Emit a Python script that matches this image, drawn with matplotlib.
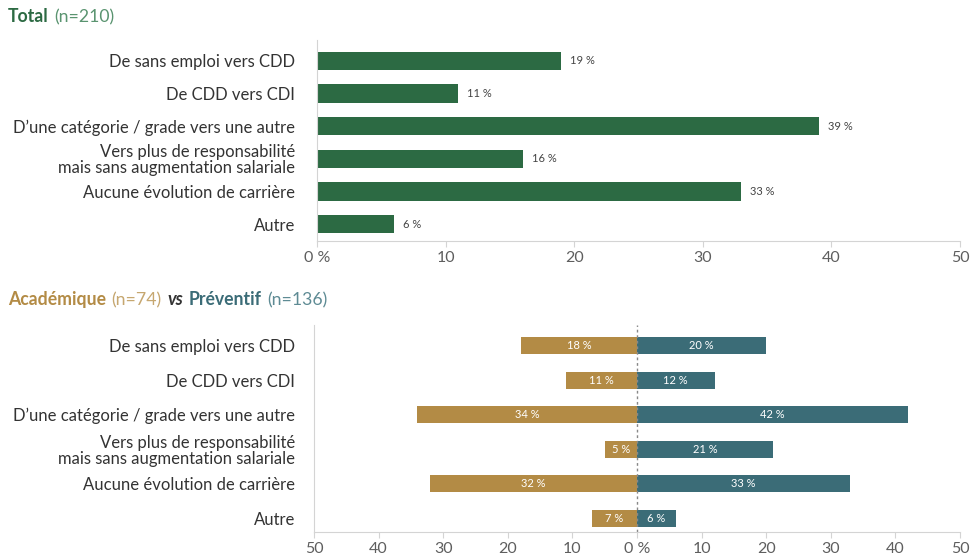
import matplotlib
matplotlib.use("Agg")
import matplotlib.pyplot as plt
from matplotlib.offsetbox import TextArea, HPacker, AnchoredOffsetbox

plt.rcParams['font.family'] = ['Lato', 'DejaVu Sans']

categories = [
    "De sans emploi vers CDD",
    "De CDD vers CDI",
    "D\u2019une catégorie / grade vers une autre",
    "Vers plus de responsabilité\nmais sans augmentation salariale",
    "Aucune évolution de carrière",
    "Autre",
]
total = [19, 11, 39, 16, 33, 6]
academique = [18, 11, 34, 5, 32, 7]
preventif = [20, 12, 42, 21, 33, 6]

GREEN = "#2c6a43"
GOLD = "#b38b45"
TEAL = "#3b6c77"
AXIS = "#d4d4d4"
TICK = "#5e5e5e"
LABEL = "#333333"

fig = plt.figure(figsize=(9.74, 5.57), dpi=100)


def style_axis(ax, pad):
    for s in ["top", "right"]:
        ax.spines[s].set_visible(False)
    ax.spines["left"].set_color(AXIS)
    ax.spines["bottom"].set_color(AXIS)
    ax.tick_params(axis="x", colors=AXIS, labelcolor=TICK, labelsize=11.5, length=4)
    ax.tick_params(axis="y", length=0, labelcolor=LABEL, labelsize=12, pad=pad)
    ax.set_yticks(range(len(categories)))
    ax.set_yticklabels(categories, linespacing=1.0)


# --- top panel: total
ax1 = fig.add_axes([317 / 974, 1 - 241 / 557, (960 - 317) / 974, (241 - 40) / 557])
y = list(range(len(categories)))
ax1.barh(y, total, height=0.56, color=GREEN)
for yi, v in zip(y, total):
    ax1.text(v + 0.7, yi, f"{v} %", va="center", ha="left", fontsize=8, color="#444444")
ax1.set_xlim(0, 50)
ax1.set_ylim(5.52, -0.64)
ax1.set_xticks([0, 10, 20, 30, 40, 50])
ax1.set_xticklabels(["0 %", "10", "20", "30", "40", "50"])
style_axis(ax1, 15.8)

# --- bottom panel: academique vs preventif
ax2 = fig.add_axes([314 / 974, 1 - 532 / 557, (960 - 314) / 974, (532 - 325) / 557])
ax2.barh(y, [-a for a in academique], height=0.5, color=GOLD)
ax2.barh(y, preventif, height=0.5, color=TEAL)
for yi, a, p in zip(y, academique, preventif):
    ax2.text(-a / 2, yi, f"{a} %", va="center", ha="center", fontsize=8, color="white")
    ax2.text(p / 2, yi, f"{p} %", va="center", ha="center", fontsize=8, color="white")
ax2.axvline(0, color="#888888", linestyle=(0, (2, 2)), linewidth=1)
ax2.set_xlim(-50, 50)
ax2.set_ylim(5.4, -0.6)
ticks = [-50, -40, -30, -20, -10, 0, 10, 20, 30, 40, 50]
ax2.set_xticks(ticks)
ax2.set_xticklabels([("0 %" if t == 0 else str(abs(t))) for t in ticks])
style_axis(ax2, 13.7)


# --- titles with mixed styles
def title(parts, ypos):
    boxes = [TextArea(t, textprops=dict(color=c, fontsize=12.7, fontweight=w, fontstyle=s))
             for t, c, w, s in parts]
    pack = HPacker(children=boxes, align="baseline", pad=0, sep=4)
    anc = AnchoredOffsetbox(loc="upper left", child=pack, frameon=False,
                            bbox_to_anchor=(8 / 974, ypos), bbox_transform=fig.transFigure,
                            borderpad=0, pad=0)
    fig.add_artist(anc)


title([("Total", GREEN, "bold", "normal"),
       ("(n=210)", "#5a9470", "normal", "normal")], 1 - 8 / 557)
title([("Académique", GOLD, "bold", "normal"),
       ("(n=74)", "#c6a770", "normal", "normal"),
       ("vs", "#333333", "bold", "italic"),
       ("Préventif", TEAL, "bold", "normal"),
       ("(n=136)", "#5e8b94", "normal", "normal")], 1 - 291 / 557)

fig.savefig("out.png", dpi=100)
